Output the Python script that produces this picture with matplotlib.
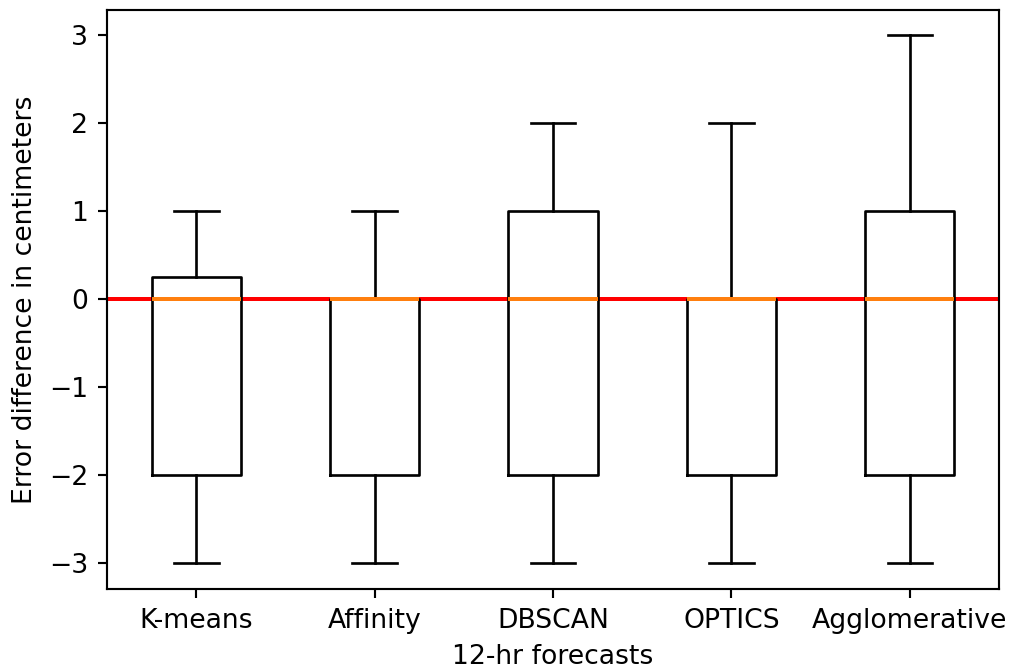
import matplotlib
matplotlib.use("Agg")
import matplotlib.pyplot as plt

# box statistics
methods = ["K-means", "Affinity", "DBSCAN", "OPTICS", "Agglomerative"]
whis_lo = [-3, -3, -3, -3, -3]
q1 = [-2, -2, -2, -2, -2]
med = [0, 0, 0, 0, 0]
q3 = [0.25, 0, 1, 0, 1]
whis_hi = [1, 1, 2, 2, 3]

stats = []
for i in range(len(methods)):
    stats.append({"label": methods[i], "whislo": whis_lo[i], "q1": q1[i],
                  "med": med[i], "q3": q3[i], "whishi": whis_hi[i], "fliers": []})

dpi = 192
fig = plt.figure(figsize=(1012 / dpi, 669 / dpi), dpi=dpi)
ax = fig.add_axes([107 / 1012, 80 / 669, 892 / 1012, 579 / 669])

ax.axhline(y=0, color='red', linewidth=1.5)  # zero error line
ax.bxp(stats, showfliers=False,
       medianprops=dict(color='C1', linewidth=1.5, zorder=3))

ax.set_ylim(-3.3, 3.29)
ax.set_xlabel("12-hr forecasts")
ax.set_ylabel("Error difference in centimeters")

fig.savefig("out.png", dpi=dpi)
